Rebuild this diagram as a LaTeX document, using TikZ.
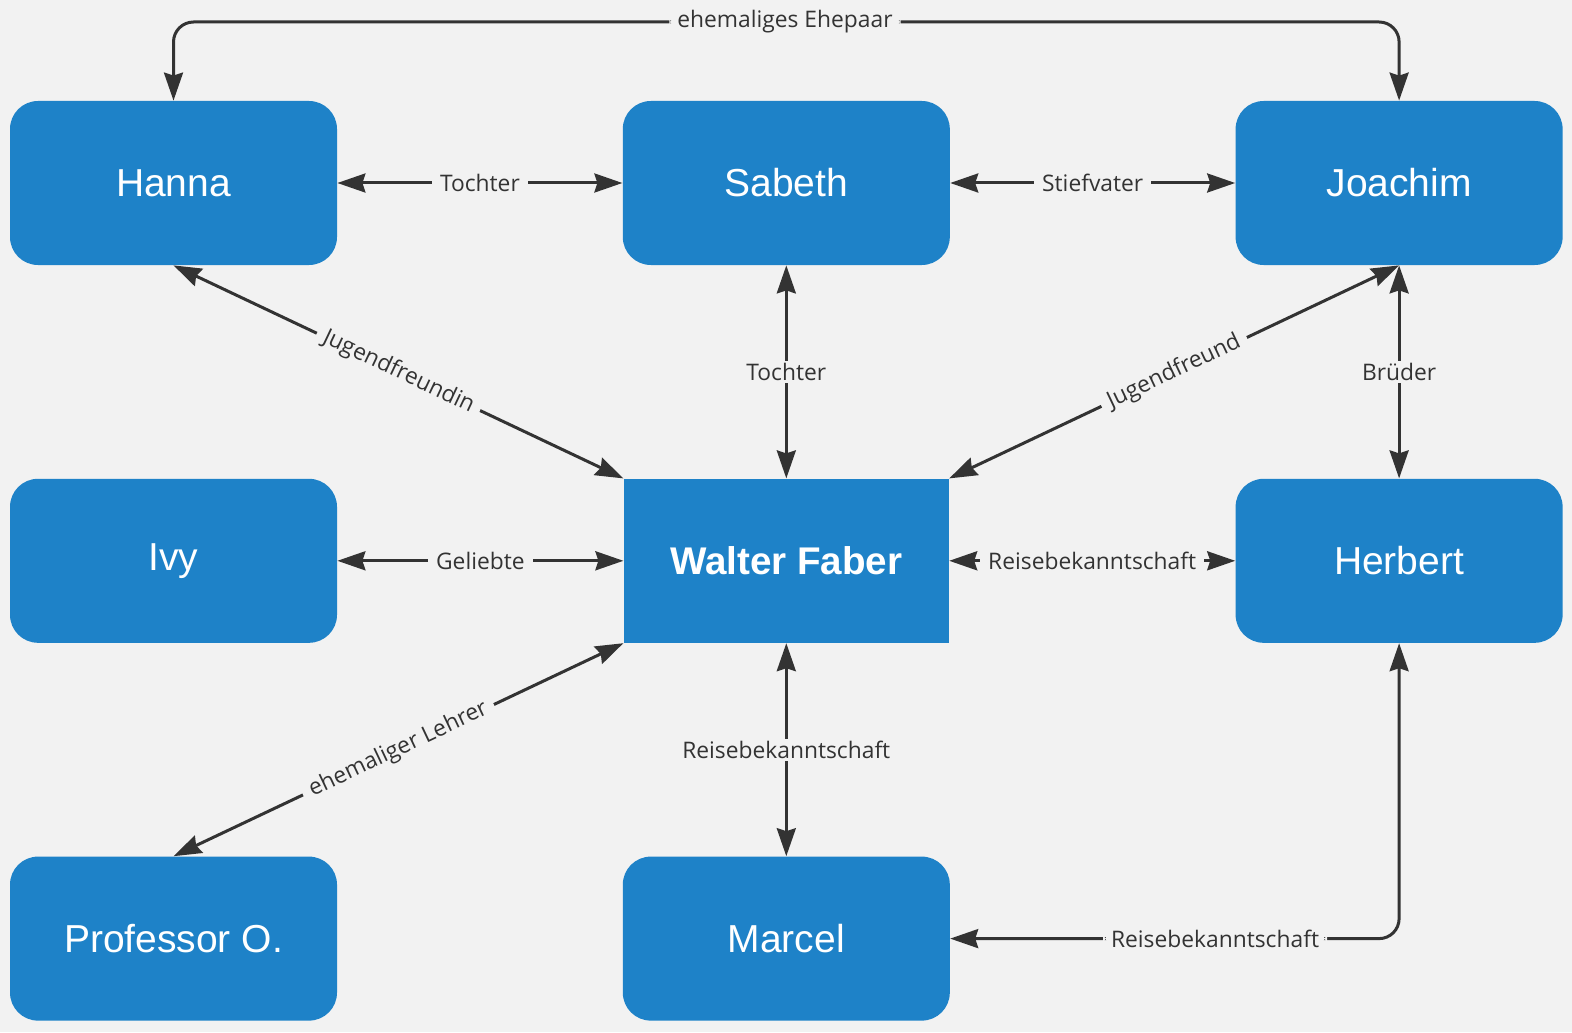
\documentclass[tikz,border=0pt]{standalone}
\usepackage{fontspec}
\setmainfont{Liberation Sans}
\newfontfamily\lblfont{Open Sans}
\usepackage{tikz}
\usetikzlibrary{
  arrows.meta,
  positioning,
  calc
}
\definecolor{fbBack}{HTML}{F2F2F2}
\definecolor{fbNode}{HTML}{1E82C8}
\definecolor{fbLine}{HTML}{333333}
\tikzset{
  person/.style={
    fill=fbNode, rounded corners=14pt, minimum width=163.5pt, minimum height=82pt,
    text=white, font=\fontsize{19.5}{23}\selectfont, inner sep=0pt
  },
  central/.style={person, rounded corners=0pt, minimum width=162.5pt, font=\fontsize{19.3}{23}\selectfont\bfseries},
  link/.style={{Stealth[length=14pt, width=9.5pt, inset=1.5pt]}-{Stealth[length=14pt, width=9.5pt, inset=1.5pt]}, line width=1.5pt, fbLine},
  onelink/.style={-{Stealth[length=14pt, width=9.5pt, inset=1.5pt]}, line width=1.5pt, fbLine},
  lbl/.style={fill=fbBack, text=fbLine, font=\lblfont\fontsize{11.4}{13}\selectfont, inner xsep=4pt, inner ysep=1pt}
}
\begin{document}
\begin{tikzpicture}[x=0.5pt, y=-0.5pt, node distance=106.5pt and 142.5pt]
  \fill[fbBack] (0,0) rectangle (1572,1032);
  \useasboundingbox (0,0) rectangle (1572,1032);

  % top row
  \node[person] (hanna) at (173.5,183) {Hanna};
  \node[person, right=of hanna] (sabeth) {Sabeth};
  \node[person, right=of sabeth] (joachim) {Joachim};
  % middle row
  \node[person, below=of hanna] (ivy) {Ivy};
  \node[central, below=of sabeth] (faber) {Walter Faber};
  \node[person, below=of joachim] (herbert) {Herbert};
  % bottom row
  \node[person, below=of ivy] (prof) {Professor O.};
  \node[person, below=of faber] (marcel) {Marcel};

  \coordinate (ehe) at (785,22);

  \draw[onelink, rounded corners=10pt] (ehe) -| (hanna.north);
  \draw[onelink, rounded corners=10pt] (ehe) node[lbl] {ehemaliges Ehepaar} -| (joachim.north);

  \draw[link] (hanna) -- node[lbl] {Tochter} (sabeth);
  \draw[link] (sabeth) -- node[lbl] {Stiefvater} (joachim);
  \draw[link] (sabeth) -- node[lbl] {Tochter} (faber);
  \draw[link] (joachim) -- node[lbl] {Brüder} (herbert);
  \draw[link] (hanna.south) -- node[lbl, sloped] {Jugendfreundin} (faber.north west);
  \draw[link] (joachim.south) -- node[lbl, sloped] {Jugendfreund} (faber.north east);
  \draw[link] (ivy) -- node[lbl] {Geliebte} (faber);
  \draw[link] (faber) -- node[lbl] {Reisebekanntschaft} (herbert);
  \draw[link] (prof.north) -- node[lbl, sloped] {ehemaliger Lehrer} (faber.south west);
  \draw[link] (faber) -- node[lbl] {Reisebekanntschaft} (marcel);
  \draw[link, rounded corners=10pt] (marcel.east) -| node[lbl, pos=0.295] {Reisebekanntschaft} (herbert.south);
\end{tikzpicture}
\end{document}
